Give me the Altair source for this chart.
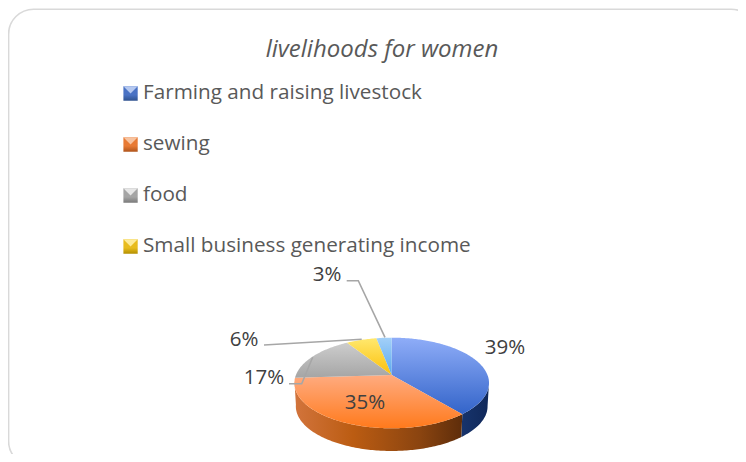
import math
import altair as alt
import pandas as pd

# ---------- chart values ----------
title = "livelihoods for women"
categories = ["Farming and raising livestock", "sewing", "food", "Small business generating income", "other"]
shares = [39, 35, 17, 6, 3]
share_labels = ["39%", "35%", "17%", "6%", "3%"]
label_x = [505, 365, 264, 244, 327]
label_y = [348, 403, 378, 340, 275]

top_colors = [("#8fadf8", "#3364c9"), ("#ffab80", "#ff7a1c"), ("#cdcdcd", "#a5a5a5"),
              ("#ffe86e", "#fcc00a"), ("#a3d0f8", "#5aa9ee")]
swatches = [("#b5c8f0", "#4a72c4", "#2f528f"), ("#f7c3a0", "#e87a34", "#b0551c"),
            ("#e6e6e6", "#a5a5a5", "#7a7a7a"), ("#fdeb9a", "#e8bc1e", "#b38f00")]
legend_y = [93.5, 144.5, 195.5, 246.5]

leaders = [
    [(346.7, 280.7), (358.3, 280.7), (385, 337.3)],
    [(264, 345), (361.7, 339.3)],
    [(289, 383.7), (301.7, 383.7), (312.7, 357.3)],
]

# ---------- pie geometry (perspective-projected disc) ----------
CX, CY, A, B, K = 391.7, 375.0, 95.8, 43.9, 0.176
DEPTH, SHRINK = 23.5, 0.985


def rim(theta_deg, scale=1.0, dy=0.0):
    t = math.radians(theta_deg)
    u, v = math.sin(t), math.cos(t)
    d = 1 + K * v
    return CX + scale * A * u / d, CY - scale * B * v / d + dy


def arc_pts(a0, a1, **kw):
    n = max(2, int(abs(a1 - a0)) + 1)
    return [rim(a0 + (a1 - a0) * i / (n - 1), **kw) for i in range(n)]


X = alt.Scale(domain=[8, 738], range=[0, 730])
Y = alt.Scale(domain=[454, 8], range=[446, 0])
x_enc = lambda f="x:Q": alt.X(f, scale=X, axis=None)
y_enc = lambda f="y:Q": alt.Y(f, scale=Y, axis=None)


def vgrad(c0, c1):
    return alt.Gradient(gradient="linear", x1=0, y1=0, x2=0, y2=1,
                        stops=[alt.GradientStop(color=c0, offset=0), alt.GradientStop(color=c1, offset=1)])


def hgrad(stops):
    return alt.Gradient(gradient="linear", x1=0, y1=0, x2=1, y2=0,
                        stops=[alt.GradientStop(color=c, offset=o) for c, o in stops])


def poly(points, fill):
    df = pd.DataFrame({"x": [p[0] for p in points], "y": [p[1] for p in points], "i": range(len(points))})
    return alt.Chart(df).mark_line(fill=fill, stroke=None, strokeWidth=0, interpolate="linear").encode(
        x=x_enc(), y=y_enc(), order=alt.Order("i:Q"))


layers = []

# frame
frame = pd.DataFrame({"x": [8.6], "x2": [756], "y": [9.2], "y2": [466]})
layers.append(alt.Chart(frame).mark_rect(fill="white", stroke="#d9d9d9", strokeWidth=1.6,
                                         cornerRadius=25, clip=True).encode(
    x=x_enc(), x2="x2:Q", y=y_enc(), y2="y2:Q"))

# title
layers.append(alt.Chart(pd.DataFrame({"x": [382], "y": [49.5], "t": [title]})).mark_text(
    font="Open Sans", fontSize=24, fontStyle="italic", color="#595959", align="center", baseline="middle").encode(
    x=x_enc(), y=y_enc(), text="t:N"))

# legend
for name, y, (c0, c1, c2) in zip(categories, legend_y, swatches):
    row = pd.DataFrame({"x": [123.4], "x2": [137.7], "y": [y - 7.2], "y2": [y + 7.2]})
    fill = alt.Gradient(gradient="linear", x1=0, y1=0, x2=0, y2=1,
                        stops=[alt.GradientStop(color=c1, offset=0), alt.GradientStop(color=c1, offset=0.6),
                               alt.GradientStop(color=c2, offset=1)])
    layers.append(alt.Chart(row).mark_rect(fill=fill).encode(x=x_enc(), x2="x2:Q", y=y_enc(), y2="y2:Q"))
    tri = pd.DataFrame({"x": [130.55], "y": [y - 3.6]})
    layers.append(alt.Chart(tri).mark_point(shape="M-1,-0.5L1,-0.5L0,0.5Z", size=207, filled=True, opacity=1,
                                            fill=c0, stroke=None).encode(x=x_enc(), y=y_enc()))
    lab = pd.DataFrame({"x": [143], "y": [y - 0.5], "t": [name]})
    layers.append(alt.Chart(lab).mark_text(font="Open Sans", fontSize=20.7, color="#595959", align="left",
                                           baseline="middle").encode(x=x_enc(), y=y_enc(), text="t:N"))

# pie side walls
bounds = [0]
for s in shares:
    bounds.append(bounds[-1] + s * 3.6)
side_orange = hgrad([("#d2743c", 0), ("#bb5c12", 0.35), ("#8a4410", 0.75), ("#5e2d0a", 1)])
side_blue = hgrad([("#17346c", 0), ("#10285a", 1)])
for a0, a1, g in [(100, bounds[1], side_blue), (bounds[1], 262, side_orange)]:
    pts = arc_pts(a0, a1) + arc_pts(a1, a0, scale=SHRINK, dy=DEPTH)
    layers.append(poly(pts, g))

# pie top
for i, (c0, c1) in enumerate(top_colors):
    pts = [(CX, CY)] + arc_pts(bounds[i], bounds[i + 1])
    layers.append(poly(pts, vgrad(c0, c1)))

# leader lines
for line in leaders:
    df = pd.DataFrame({"x": [p[0] for p in line], "y": [p[1] for p in line], "i": range(len(line))})
    layers.append(alt.Chart(df).mark_line(color="#a6a6a6", strokeWidth=1.6).encode(
        x=x_enc(), y=y_enc(), order=alt.Order("i:Q")))

# data labels
labels = pd.DataFrame({"x": label_x, "y": label_y, "t": share_labels})
layers.append(alt.Chart(labels).mark_text(font="Open Sans", fontSize=20.5, color="#404040", align="center",
                                          baseline="middle").encode(x=x_enc(), y=y_enc(), text="t:N"))

chart = alt.layer(*layers).properties(width=730, height=446, padding=0, background="white",
                                      autosize=alt.AutoSizeParams(type="none")).configure_view(stroke=None)
chart.save("out.html", embed_options={"renderer": "svg", "actions": False})
